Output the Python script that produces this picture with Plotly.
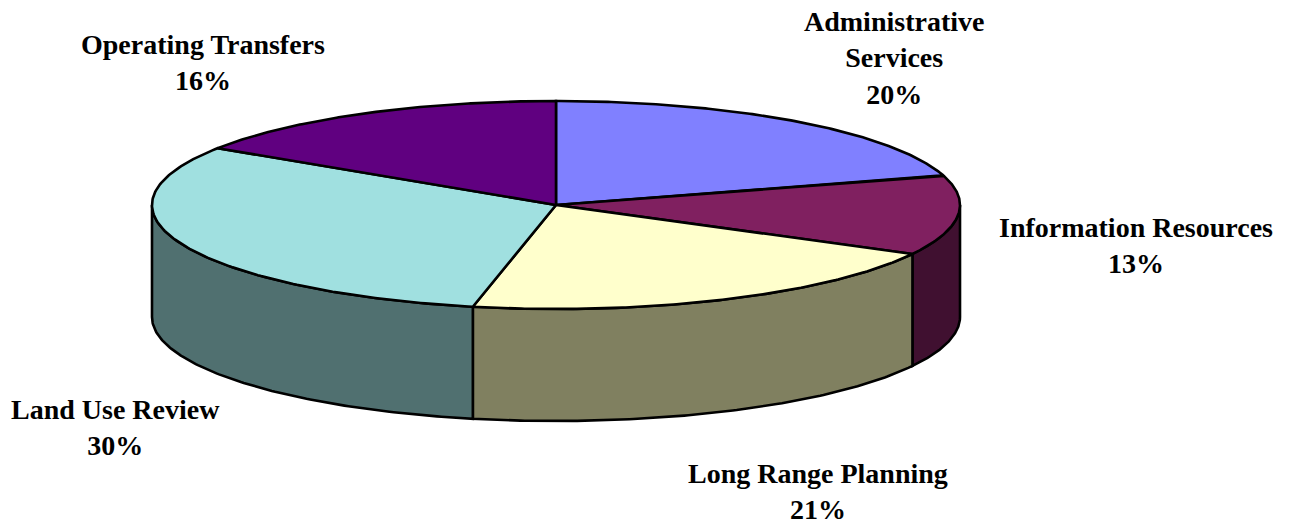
import numpy as np
import plotly.graph_objects as go

categories = ["Administrative<br>Services", "Information Resources", "Long Range Planning", "Land Use Review", "Operating Transfers"]
values = [20.4, 12.4, 20.5, 30.9, 15.8]
percent_labels = ["20%", "13%", "21%", "30%", "16%"]
top_colors = ["#8080FF", "#802060", "#FFFFCC", "#A0E0E0", "#600080"]
side_colors = ["#404080", "#401030", "#808060", "#507070", "#300040"]
label_xy = [(894, 58), (1136, 245), (818, 491), (115, 427), (203, 62)]

CX, CY, RX, RY, DEPTH = 556, 205, 404, 104, 112
LINE = dict(color="black", width=2.6)


def pt(a):
    a = np.asarray(a)
    return CX + RX * np.sin(a), CY - RY * np.cos(a)


fracs = np.array(values) / sum(values)
edges = np.concatenate([[0], np.cumsum(fracs)]) * 2 * np.pi
fig = go.Figure()

# side walls (only the front half of the rim is visible)
for i in range(len(values)):
    lo, hi = max(edges[i], np.pi / 2), min(edges[i + 1], 3 * np.pi / 2)
    if hi <= lo:
        continue
    a = np.linspace(lo, hi, 120)
    x, y = pt(a)
    fig.add_trace(go.Scatter(
        x=np.concatenate([x, x[::-1], x[:1]]),
        y=np.concatenate([y, y[::-1] + DEPTH, y[:1]]),
        mode="lines", fill="toself", fillcolor=side_colors[i], line=LINE,
        hoverinfo="skip", showlegend=False))

# top face
for i in range(len(values)):
    a = np.linspace(edges[i], edges[i + 1], 160)
    x, y = pt(a)
    fig.add_trace(go.Scatter(
        x=np.concatenate([[CX], x, [CX]]),
        y=np.concatenate([[CY], y, [CY]]),
        mode="lines", fill="toself", fillcolor=top_colors[i], line=LINE,
        name=categories[i].replace("<br>", " "), showlegend=False))

for i, (lx, ly) in enumerate(label_xy):
    fig.add_annotation(x=lx, y=ly, xref="x", yref="y", showarrow=False, align="center",
                       text=f"<b>{categories[i]}<br>{percent_labels[i]}</b>",
                       font=dict(family="Liberation Serif", size=28, color="black"))

fig.update_layout(
    width=1293, height=523, margin=dict(l=0, r=0, t=0, b=0),
    paper_bgcolor="white", plot_bgcolor="white",
    xaxis=dict(range=[0, 1293], visible=False, fixedrange=True),
    yaxis=dict(range=[523, 0], visible=False, fixedrange=True),
)
fig.write_html("out.html", config={"displayModeBar": False},
               post_script="document.body.style.margin='0';document.documentElement.style.overflow='hidden';")
